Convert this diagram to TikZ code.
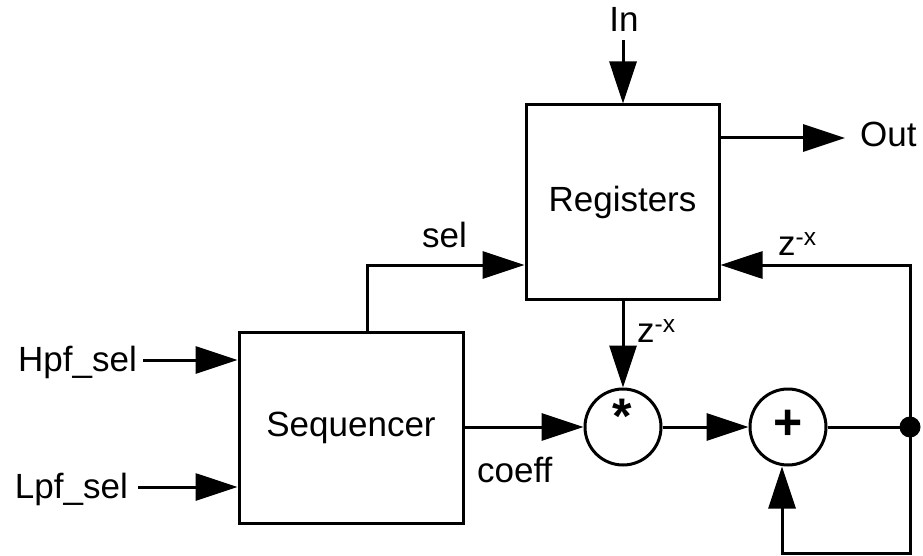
\documentclass[tikz,border=0pt]{standalone}
\usepackage{fontspec}
\setmainfont{Liberation Sans}
\usetikzlibrary{arrows.meta,calc}
\begin{document}
\begin{tikzpicture}[x=1pt,y=-1pt,
  box/.style={draw,line width=3pt,rectangle,inner sep=0pt,font=\fontsize{35}{40}\selectfont},
  circ/.style={draw,line width=3pt,circle,minimum size=76pt,inner sep=0pt},
  arr/.style={line width=3pt,-{Triangle[length=42pt,width=27pt]}},
  wire/.style={line width=3pt},
  txt/.style={font=\fontsize{35}{40}\selectfont,inner sep=0pt},
  sym/.style={font=\fontsize{50}{50}\selectfont\bfseries,inner sep=0pt}]
\useasboundingbox (0,0) rectangle (923,556);
% blocks
\node[box,minimum width=193pt,minimum height=194pt] (reg) at (622.5,202) {Registers};
\node[box,minimum width=224pt,minimum height=191pt] (seq) at (351,427.5) {Sequencer};
\node[circ] (mul) at (623,427) {};
\node[sym] (star) at (622,416) {*};
\node[circ] (add) at (788,427) {};
\node[sym] (plus) at (788,425) {+};
\node[circle,fill,inner sep=0pt,minimum size=21pt] (dot) at (910,427) {};
% texts
\node[txt,anchor=base] (In) at (624,32) {In};
\node[txt,anchor=base west] (Out) at (860,147) {Out};
\node[txt,anchor=base east] (Hpf) at (137,371) {Hpf\_sel};
\node[txt,anchor=base east] (Lpf) at (128,498) {Lpf\_sel};
\node[txt,anchor=base west] (sel) at (422,247) {sel};
\node[txt,anchor=base west] (coeff) at (477,482) {coeff};
\node[txt,anchor=base west] (zfb) at (778,255) {z\textsuperscript{-x}};
\node[txt,anchor=base west] (zmul) at (637,342) {z\textsuperscript{-x}};
% helper coordinates
\coordinate (inS) at (623,40);
\coordinate (outS) at (719,138);
\coordinate (outE) at (845,138);
\coordinate (hs) at (143,360);
\coordinate (ls) at (138,487);
\coordinate (selx) at (367,265);
\coordinate (bot) at (910,553);
\coordinate (addin) at ($(add.south)+(-6pt,0)$);
% connectors
\draw[arr] (inS) -- (inS |- reg.north);
\draw[arr] (outS) -- (outE);
\draw[arr] (hs) -- (seq.west |- hs);
\draw[arr] (ls) -- (seq.west |- ls);
\draw[arr] (seq.north -| selx) |- (reg.west |- selx);
\draw[arr] (dot.center) |- (reg.east |- selx);
\draw[arr] (reg.south -| mul) -- (mul.north);
\draw[arr] (seq.east |- mul) -- (mul.west);
\draw[arr] (mul.east) -- (add.west);
\draw[wire] (add.east) -- (dot.center);
\draw[arr] (dot.center) -- (bot) -| (addin);
\end{tikzpicture}
\end{document}
